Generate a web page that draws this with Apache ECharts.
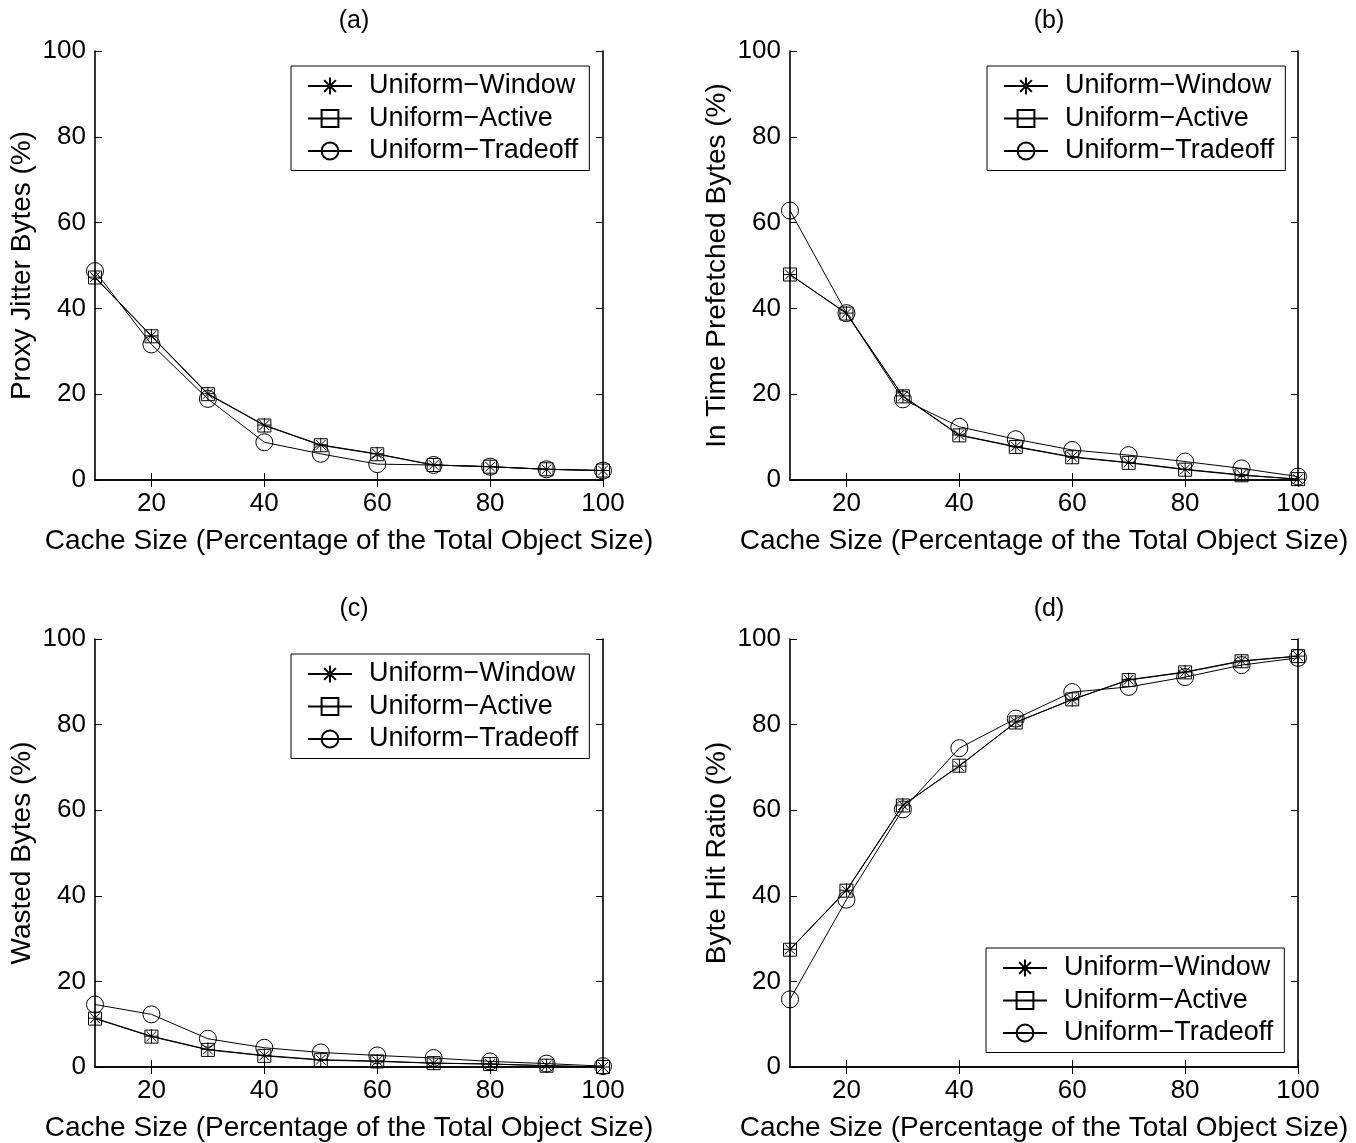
<!DOCTYPE html>
<html lang="en">

<head>
  <meta charset="UTF-8">
  <title>Cache Size charts</title>
  <style>
    html, body { margin: 0; padding: 0; background: #fff; }
  </style>
</head>

<body>
  <div id="echarts" style="width: 1356px; height: 1143px;"></div>
  <script src="https://cdn.jsdelivr.net/npm/echarts@6/dist/echarts.min.js"></script>
  <script>
    // x values (cache size %)
    const cacheSize = [10, 20, 30, 40, 50, 60, 70, 80, 90, 100];
    const xTicks = [20, 40, 60, 80, 100];
    const seriesNames = ['Uniform−Window', 'Uniform−Active', 'Uniform−Tradeoff'];
    const panelTitles = ['(a)', '(b)', '(c)', '(d)'];
    const yNames = ['Proxy Jitter Bytes (%)', 'In Time Prefetched Bytes (%)', 'Wasted Bytes (%)', 'Byte Hit Ratio (%)'];

    // (a) proxy jitter
    const jitterWindow = [47.3, 33.6, 20.1, 12.8, 8.2, 6.1, 3.5, 3.1, 2.5, 2.2];
    const jitterActive = [47.2, 33.5, 20.0, 12.7, 8.1, 6.0, 3.5, 3.1, 2.5, 2.2];
    const jitterTradeoff = [48.7, 31.6, 18.9, 8.8, 6.1, 3.7, 3.5, 3.1, 2.5, 2.2];
    // (b) in time prefetched
    const prefWindow = [47.9, 38.9, 19.6, 10.5, 7.8, 5.4, 4.1, 2.5, 1.2, 0.2];
    const prefActive = [47.9, 38.8, 19.5, 10.4, 7.7, 5.3, 4.0, 2.4, 1.1, 0.2];
    const prefTradeoff = [62.8, 38.9, 18.8, 12.4, 9.5, 7.0, 5.8, 4.3, 2.7, 0.8];
    // (c) wasted
    const wasteWindow = [11.4, 7.2, 4.1, 2.7, 1.7, 1.4, 0.9, 0.7, 0.3, 0.0];
    const wasteActive = [11.3, 7.1, 4.0, 2.6, 1.6, 1.3, 0.9, 0.7, 0.3, 0.0];
    const wasteTradeoff = [14.6, 12.3, 6.6, 4.5, 3.4, 2.7, 2.1, 1.3, 0.8, 0.2];
    // (d) byte hit ratio
    const hitWindow = [27.5, 41.3, 61.2, 70.3, 80.6, 85.8, 90.5, 92.3, 94.9, 96.0];
    const hitActive = [27.4, 41.2, 61.1, 70.4, 80.5, 85.9, 90.4, 92.2, 94.8, 96.0];
    const hitTradeoff = [15.8, 39.1, 60.2, 74.5, 81.4, 87.6, 88.8, 91.1, 93.9, 95.6];

    const panelData = [
      [jitterWindow, jitterActive, jitterTradeoff],
      [prefWindow, prefActive, prefTradeoff],
      [wasteWindow, wasteActive, wasteTradeoff],
      [hitWindow, hitActive, hitTradeoff]
    ];

    const font = 'Liberation Sans, Arial, Helvetica, sans-serif';
    const grids = [
      { left: 95, top: 51, width: 508, height: 429 },
      { left: 790, top: 51, width: 508, height: 429 },
      { left: 95, top: 639, width: 508, height: 428 },
      { left: 790, top: 639, width: 508, height: 428 }
    ];
    const legendPos = [
      { left: 291, top: 66 },
      { left: 987, top: 66 },
      { left: 291, top: 654 },
      { left: 986, top: 948 }
    ];
    const symbols = [
      'path://M0,10 L20,10 M10,0 L10,20 M3,3 L17,17 M17,3 L3,17',
      'rect',
      'circle'
    ];
    const symbolSizes = [14, 13, 17];

    window.onload = function () {
      let echart = echarts.init(document.getElementById('echarts'));

      const axisLine = { lineStyle: { color: '#000', width: 1.6 } };
      const xAxis = [];
      const yAxis = [];
      for (let i = 0; i < 4; i++) {
        xAxis.push({
          type: 'value', gridIndex: i, min: 10, max: 100,
          name: 'Cache Size (Percentage of the Total Object Size)',
          nameLocation: 'middle', nameGap: 47,
          nameTextStyle: { color: '#000', fontSize: 28, fontFamily: font },
          axisLine: axisLine,
          axisTick: { inside: true, length: 7, customValues: xTicks, lineStyle: { color: '#000' } },
          axisLabel: { customValues: xTicks, color: '#000', fontSize: 26, fontFamily: font, margin: 11 },
          splitLine: { show: false }
        });
        yAxis.push({
          type: 'value', gridIndex: i, min: 0, max: 100, interval: 20,
          name: yNames[i],
          nameLocation: 'middle', nameGap: 59,
          nameTextStyle: { color: '#000', fontSize: 28, fontFamily: font },
          axisLine: axisLine,
          axisTick: { inside: true, length: 7, lineStyle: { color: '#000' } },
          axisLabel: { color: '#000', fontSize: 26, fontFamily: font, margin: 9 },
          splitLine: { show: false }
        });
      }
      // box: top and right axes with inward ticks, no labels
      for (let i = 0; i < 4; i++) {
        xAxis.push({
          type: 'value', gridIndex: i, min: 10, max: 100, position: 'top',
          axisLine: axisLine,
          axisTick: { inside: true, length: 7, customValues: xTicks, lineStyle: { color: '#000' } },
          axisLabel: { show: false },
          splitLine: { show: false }
        });
        yAxis.push({
          type: 'value', gridIndex: i, min: 0, max: 100, interval: 20, position: 'right',
          axisLine: axisLine,
          axisTick: { inside: true, length: 7, lineStyle: { color: '#000' } },
          axisLabel: { show: false },
          splitLine: { show: false }
        });
      }

      const series = [];
      for (let i = 0; i < 4; i++) {
        for (let s = 0; s < 3; s++) {
          series.push({
            name: seriesNames[s],
            type: 'line',
            xAxisIndex: i,
            yAxisIndex: i,
            data: cacheSize.map((x, k) => [x, panelData[i][s][k]]),
            symbol: symbols[s],
            symbolSize: symbolSizes[s],
            showAllSymbol: true,
            itemStyle: { color: 'rgba(0,0,0,0)', borderColor: '#000', borderWidth: 1 },
            lineStyle: { color: '#000', width: 1 },
            emphasis: { disabled: true },
            animation: false
          });
        }
      }

      const legend = legendPos.map((p) => ({
        data: seriesNames,
        orient: 'vertical',
        left: p.left,
        top: p.top,
        selectedMode: false,
        backgroundColor: '#fff',
        borderColor: '#000',
        borderWidth: 1,
        padding: [6.5, 11, 6, 16],
        itemWidth: 44,
        itemHeight: 21,
        itemGap: 5.5,
        textStyle: { color: '#000', fontSize: 27, lineHeight: 27, fontFamily: font, padding: [0, 0, 0, 12] }
      }));

      const title = panelTitles.map((t, i) => ({
        text: t,
        left: grids[i].left + grids[i].width / 2,
        top: i < 2 ? 4 : 592,
        textAlign: 'center',
        textStyle: { color: '#000', fontSize: 25, fontWeight: 'normal', fontFamily: font }
      }));

      let options = {
        backgroundColor: '#fff',
        animation: false,
        title: title,
        legend: legend,
        grid: grids,
        xAxis: xAxis,
        yAxis: yAxis,
        series: series
      };
      echart.setOption(options);
    };
  </script>
</body>

</html>
